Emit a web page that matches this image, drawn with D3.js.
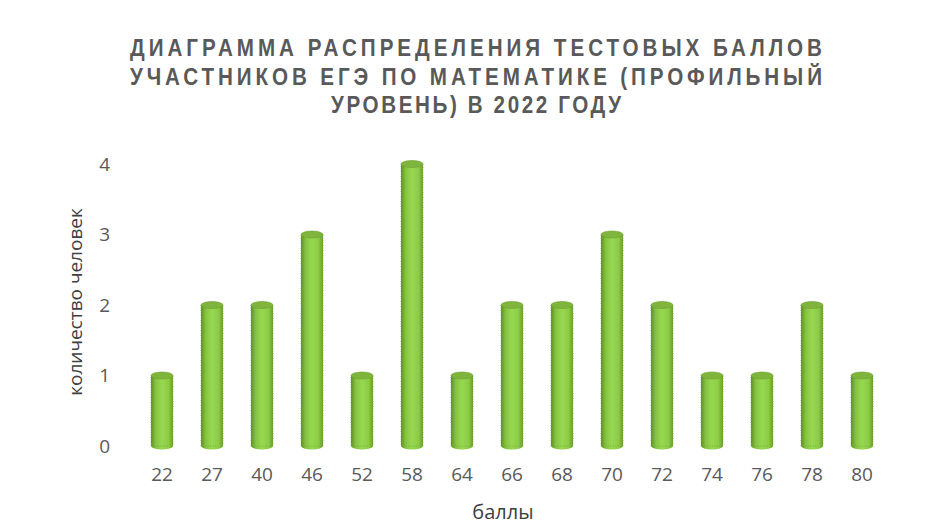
<!DOCTYPE html>
<meta charset="utf-8">
<style>
html, body { margin: 0; padding: 0; background: #fff; }
svg { display: block; }
text { font-family: "Open Sans", "Liberation Sans", sans-serif; }
</style>
<body>
<script src="https://d3js.org/d3.v7.min.js"></script>
<script>

var width = 931,
    height = 524;

// data
var scores = ["22","27","40","46","52","58","64","66","68","70","72","74","76","78","80"];
var people = [1, 2, 2, 3, 1, 4, 1, 2, 2, 3, 2, 1, 1, 2, 1];
var yTicks = [0, 1, 2, 3, 4];
var titleLines = [
  "ДИАГРАММА РАСПРЕДЕЛЕНИЯ ТЕСТОВЫХ БАЛЛОВ",
  "УЧАСТНИКОВ ЕГЭ ПО МАТЕМАТИКЕ (ПРОФИЛЬНЫЙ",
  "УРОВЕНЬ) В 2022 ГОДУ"
];
var xTitle = "баллы";
var yTitle = "количество человек";

var svg = d3.select("body").append("svg")
  .attr("width", width)
  .attr("height", height);

var defs = svg.append("defs");
var grad = defs.append("linearGradient")
  .attr("id", "barGrad")
  .attr("x1", 0).attr("x2", 1).attr("y1", 0).attr("y2", 0);
grad.append("stop").attr("offset", "0%").attr("stop-color", "#5f8f25");
grad.append("stop").attr("offset", "22%").attr("stop-color", "#86c441");
grad.append("stop").attr("offset", "50%").attr("stop-color", "#97d851");
grad.append("stop").attr("offset", "80%").attr("stop-color", "#8ccb46");
grad.append("stop").attr("offset", "100%").attr("stop-color", "#6b9d2c");

// title: narrow glyphs, some letter spacing
var sx = 0.86;
var title = svg.append("g").attr("class", "title")
  .attr("transform", "translate(476,0) scale(" + sx + ",1)");
var titleY = [56, 85, 113];
var titleLen = [692, 692, 290];
title.selectAll("text")
  .data(titleLines)
  .enter().append("text")
  .attr("x", 0)
  .attr("y", function(d, i){ return titleY[i]; })
  .attr("text-anchor", "middle")
  .attr("textLength", function(d, i){ return titleLen[i] / sx; })
  .attr("lengthAdjust", "spacing")
  .style("font-family", "'Liberation Sans', Arial, sans-serif")
  .style("font-weight", "bold")
  .style("font-size", "24px")
  .attr("fill", "#595959")
  .text(function(d){ return d; });

var x = d3.scaleBand()
  .domain(scores)
  .range([137, 887])
  .paddingInner(0.56)
  .paddingOuter(0.28);

var y = d3.scaleLinear()
  .domain([0, 4])
  .range([446, 164]);

// axes (no lines, only labels)
var xAxis = svg.append("g")
  .attr("transform", "translate(0," + 467 + ")")
  .call(d3.axisBottom(x).tickSize(0).tickPadding(0));
xAxis.select(".domain").remove();
xAxis.selectAll("text")
  .attr("dy", "0.71em")
  .attr("fill", "#595959")
  .style("font-size", "19px")
  .style("font-family", "'Open Sans', sans-serif");

var yAxis = svg.append("g")
  .attr("transform", "translate(" + 110 + ",0)")
  .call(d3.axisLeft(y).tickValues(yTicks).tickFormat(d3.format("d")).tickSize(0).tickPadding(0));
yAxis.select(".domain").remove();
yAxis.selectAll("text")
  .attr("fill", "#595959")
  .style("font-size", "19px")
  .style("font-family", "'Open Sans', sans-serif");

// cylinders
var bw = x.bandwidth(), ry = 3.5;
var bars = svg.append("g").attr("class", "bars")
  .selectAll("g")
  .data(people)
  .enter().append("g")
  .attr("transform", function(d, i){ return "translate(" + x(scores[i]) + ",0)"; });

bars.append("ellipse")
  .attr("cx", bw / 2)
  .attr("cy", y(0))
  .attr("rx", bw / 2)
  .attr("ry", ry)
  .attr("fill", "url(#barGrad)");

bars.append("rect")
  .attr("x", 0)
  .attr("y", function(d){ return y(d); })
  .attr("width", bw)
  .attr("height", function(d){ return y(0) - y(d); })
  .attr("fill", "url(#barGrad)")
  .attr("stroke", "#7aa83a")
  .attr("stroke-width", 0.8)
  .attr("stroke-dasharray", "1,1.5");

bars.append("ellipse")
  .attr("cx", bw / 2)
  .attr("cy", function(d){ return y(d); })
  .attr("rx", bw / 2)
  .attr("ry", ry)
  .attr("fill", "#7fb53c")
  .attr("stroke", "#6f9f33")
  .attr("stroke-width", 0.6);

// axis titles
svg.append("text")
  .attr("x", 503)
  .attr("y", 519)
  .attr("text-anchor", "middle")
  .attr("fill", "#404040")
  .style("font-size", "20px")
  .text(xTitle);

svg.append("text")
  .attr("transform", "translate(82,302) rotate(-90)")
  .attr("text-anchor", "middle")
  .attr("fill", "#404040")
  .style("font-size", "19px")
  .text(yTitle);

</script>
</body>
